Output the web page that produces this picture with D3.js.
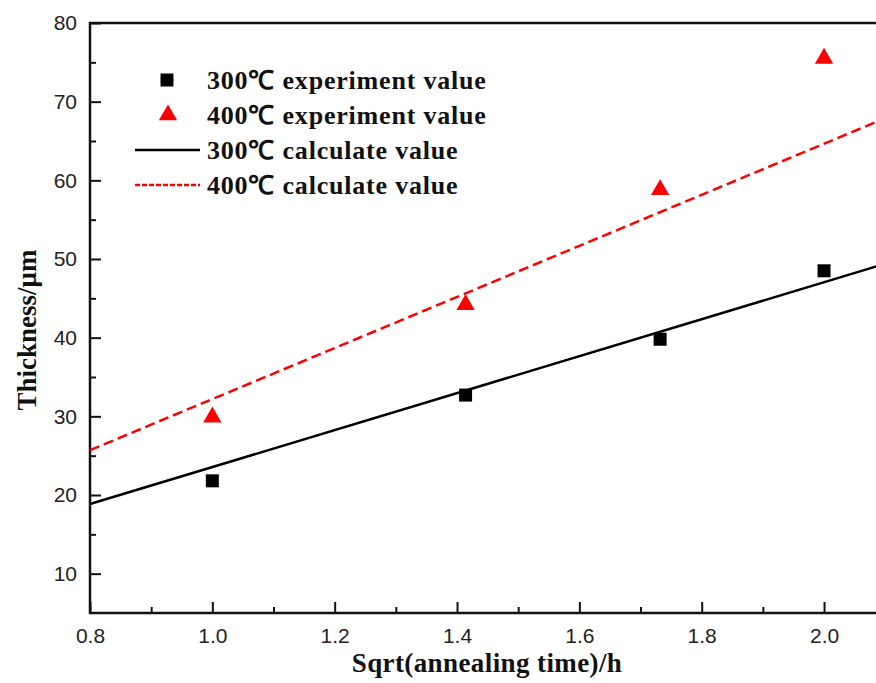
<!DOCTYPE html>
<head>
  <meta charset="UTF-8">
  <title>thickness</title>
  <style>
  body, html, svg{
    padding: 0;
    margin: 0;
  }
  body{
    background: #fff;
  }
  .tick text{
    font-family: "Liberation Sans", Arial, sans-serif;
    font-size: 21px;
    fill: #222;
  }
  .title, .legend text{
    font-family: "Liberation Serif", "Times New Roman", serif;
    font-weight: bold;
    fill: #111;
  }
  </style>
</head>
<body>
  <script src="https://cdn.jsdelivr.net/npm/d3@7/dist/d3.min.js"></script>
  <script type="text/javascript">
  var width = 876;
  var height = 683;

  // data
  var xVals = [1.0, 1.414, 1.732, 2.0];
  var exp300 = [21.8, 32.7, 39.8, 48.5];
  var exp400 = [29.9, 44.2, 58.8, 75.5];
  // calculated lines, ends at x = 0.8 and 2.1
  var calcX = [0.8, 2.1];
  var calc300 = [18.85, 49.4];
  var calc400 = [25.7, 67.9];
  var xTicks = [0.8, 1.0, 1.2, 1.4, 1.6, 1.8, 2.0];
  var yTicks = [10, 20, 30, 40, 50, 60, 70, 80];
  var legendNames = ['300℃ experiment value', '400℃ experiment value',
                     '300℃ calculate value', '400℃ calculate value'];

  var plotLeft = 90, plotTop = 23, plotBottom = 613;

  var x = d3.scaleLinear().domain([0.8, 2.1]).range([plotLeft, plotLeft + 1.3 * 611.7]);
  var y = d3.scaleLinear().domain([5, 80]).range([plotBottom, plotTop]);

  var svg = d3.select('body')
    .append('svg')
    .attr('width', width)
    .attr('height', height);

  //minor ticks
  var xMinor = d3.range(0.9, 2.1, 0.2);
  var yMinor = d3.range(15, 80, 10);

  svg.append('g')
    .attr('transform', 'translate(0,' + plotBottom + ')')
    .call(d3.axisBottom(x).tickValues(xMinor).tickSize(-6).tickFormat(''))
    .call(function(g){ g.select('.domain').remove(); })
    .selectAll('line').attr('stroke', '#111').attr('stroke-width', 2);

  svg.append('g')
    .attr('transform', 'translate(' + plotLeft + ',0)')
    .call(d3.axisLeft(y).tickValues(yMinor).tickSize(-6).tickFormat(''))
    .call(function(g){ g.select('.domain').remove(); })
    .selectAll('line').attr('stroke', '#111').attr('stroke-width', 2);

  //main axes
  var xAxis = svg.append('g')
    .attr('transform', 'translate(0,' + plotBottom + ')')
    .call(d3.axisBottom(x).tickValues(xTicks).tickSize(-11).tickPadding(15).tickFormat(d3.format('.1f')));
  xAxis.select('.domain').remove();
  xAxis.selectAll('line').attr('stroke', '#111').attr('stroke-width', 2);

  var yAxis = svg.append('g')
    .attr('transform', 'translate(' + plotLeft + ',0)')
    .call(d3.axisLeft(y).tickValues(yTicks).tickSize(-11).tickPadding(13));
  yAxis.select('.domain').remove();
  yAxis.selectAll('line').attr('stroke', '#111').attr('stroke-width', 2);

  //frame: left, bottom, top
  svg.append('path')
    .attr('d', 'M' + width + ',' + plotTop + 'H' + plotLeft + 'V' + plotBottom + 'H' + width)
    .attr('fill', 'none')
    .attr('stroke', '#111')
    .attr('stroke-width', 2.5);

  //calculated lines
  var line = d3.line()
    .x(function(d){ return x(d[0]); })
    .y(function(d){ return y(d[1]); });

  svg.append('path')
    .datum(d3.zip(calcX, calc300))
    .attr('d', line)
    .attr('fill', 'none')
    .attr('stroke', '#000')
    .attr('stroke-width', 2.5);

  svg.append('path')
    .datum(d3.zip(calcX, calc400))
    .attr('d', line)
    .attr('fill', 'none')
    .attr('stroke', '#f00')
    .attr('stroke-width', 2.5)
    .attr('stroke-dasharray', '10,5');

  //experiment points
  var sq = d3.symbol().type(d3.symbolSquare).size(169);
  var tri = d3.symbol().type(d3.symbolTriangle).size(145);

  svg.append('g')
    .selectAll('path')
    .data(d3.zip(xVals, exp300))
    .enter()
    .append('path')
    .attr('d', sq)
    .attr('transform', function(d){ return 'translate(' + x(d[0]) + ',' + y(d[1]) + ')'; })
    .attr('fill', '#000');

  svg.append('g')
    .selectAll('path')
    .data(d3.zip(xVals, exp400))
    .enter()
    .append('path')
    .attr('d', tri)
    .attr('transform', function(d){ return 'translate(' + x(d[0]) + ',' + y(d[1]) + ')'; })
    .attr('fill', '#f00');

  //legend
  var legend = svg.append('g').attr('class', 'legend');
  var rowY = [80, 115, 150, 185];
  legend.append('path').attr('d', sq)
    .attr('transform', 'translate(167,' + rowY[0] + ')').attr('fill', '#000');
  legend.append('path').attr('d', tri)
    .attr('transform', 'translate(168,' + rowY[1] + ')').attr('fill', '#f00');
  legend.append('line')
    .attr('x1', 135).attr('x2', 200).attr('y1', rowY[2]).attr('y2', rowY[2])
    .attr('stroke', '#000').attr('stroke-width', 2.5);
  legend.append('line')
    .attr('x1', 135).attr('x2', 200).attr('y1', rowY[3]).attr('y2', rowY[3])
    .attr('stroke', '#f00').attr('stroke-width', 2.5).attr('stroke-dasharray', '5,2');

  legend.selectAll('text')
    .data(legendNames)
    .enter()
    .append('text')
    .attr('x', 207)
    .attr('y', function(d, i){ return rowY[i]; })
    .attr('dy', '0.35em')
    .attr('font-size', 26)
    .attr('letter-spacing', 0.8)
    .text(function(d){ return d; });

  //axis titles
  svg.append('text')
    .attr('class', 'title')
    .attr('x', 487)
    .attr('y', 672)
    .attr('text-anchor', 'middle')
    .attr('font-size', 27)
    .attr('letter-spacing', 0.4)
    .text('Sqrt(annealing time)/h');

  svg.append('text')
    .attr('class', 'title')
    .attr('transform', 'translate(36,330) rotate(-90)')
    .attr('text-anchor', 'middle')
    .attr('font-size', 27)
    .text('Thickness/μm');
  </script>
</body>
</html>
